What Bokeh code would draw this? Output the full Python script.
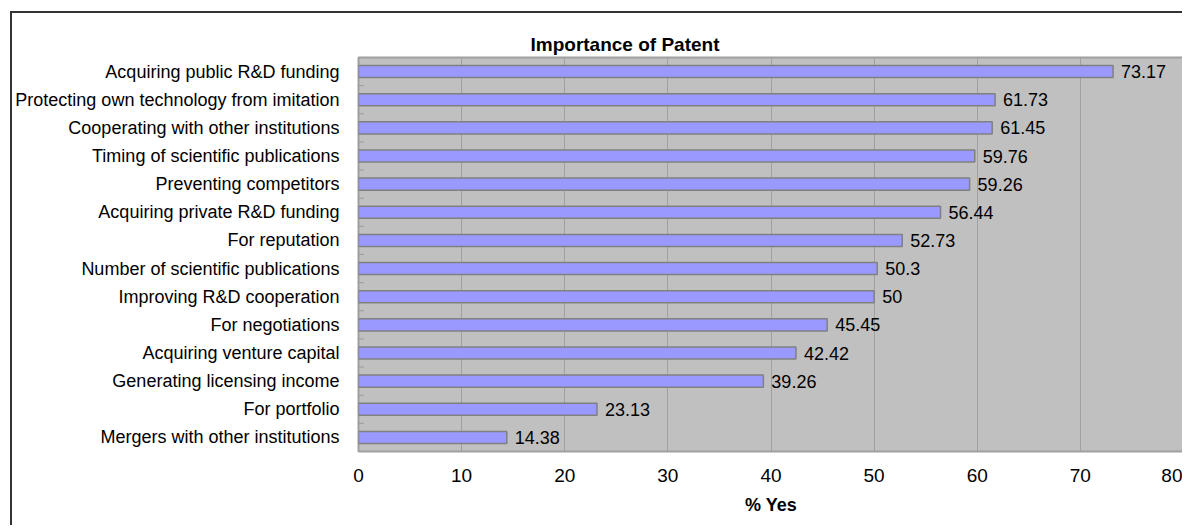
from bokeh.plotting import figure
from bokeh.models import ColumnDataSource, LabelSet, Title
from bokeh.transform import dodge
from bokeh.embed import file_html
from bokeh.resources import INLINE
from bokeh.core.properties import value

categories = [
    "Acquiring public R&D funding",
    "Protecting own technology from imitation",
    "Cooperating with other institutions",
    "Timing of scientific publications",
    "Preventing competitors",
    "Acquiring private R&D funding",
    "For reputation",
    "Number of scientific publications",
    "Improving R&D cooperation",
    "For negotiations",
    "Acquiring venture capital",
    "Generating licensing income",
    "For portfolio",
    "Mergers with other institutions",
]
values = [73.17, 61.73, 61.45, 59.76, 59.26, 56.44, 52.73, 50.3, 50, 45.45, 42.42, 39.26, 23.13, 14.38]
labels = ["73.17", "61.73", "61.45", "59.76", "59.26", "56.44", "52.73", "50.3", "50",
          "45.45", "42.42", "39.26", "23.13", "14.38"]
x_ticks = [0, 10, 20, 30, 40, 50, 60, 70, 80]

FONT = "Liberation Sans"
y_range = list(reversed(categories))

src = ColumnDataSource(dict(cat=categories, val=values, lab=labels))

p = figure(width=1172, height=514, y_range=y_range, x_range=(0, 80),
           output_backend="svg", toolbar_location=None,
           min_border_left=346, min_border_right=1, min_border_top=44, min_border_bottom=76)

p.background_fill_color = "#C0C0C0"
p.border_fill_color = "white"
p.outline_line_color = "#A0A0A0"
p.outline_line_width = 2

# small inward ticks at the category boundaries
p.segment(x0=0, x1=0.5, y0=dodge("cat", 0.5, range=p.y_range),
          y1=dodge("cat", 0.5, range=p.y_range), source=src,
          line_color="#999999", line_width=1)

p.hbar(y="cat", right="val", left=0, height=0.43, source=src,
       fill_color="#9999FF", line_color="#808080", line_width=1.5)

p.add_layout(LabelSet(x="val", y="cat", text="lab", source=src, x_offset=8,
                      text_baseline="middle", text_font=value(FONT),
                      text_font_size="18px", text_color="black"))

p.xgrid.ticker = x_ticks
p.xgrid.grid_line_color = "#A0A0A0"
p.xgrid.grid_line_width = 1
p.ygrid.grid_line_color = None

p.xaxis.ticker = x_ticks
p.xaxis.axis_line_color = None
p.xaxis.major_tick_line_color = None
p.xaxis.minor_tick_line_color = None
p.xaxis.major_tick_out = 0
p.xaxis.major_tick_in = 0
p.xaxis.major_label_standoff = 17
p.xaxis.major_label_text_font = FONT
p.xaxis.major_label_text_font_size = "19px"
p.xaxis.major_label_text_color = "black"
p.xaxis.axis_label = "% Yes"
p.xaxis.axis_label_text_font = FONT
p.xaxis.axis_label_text_font_style = "bold"
p.xaxis.axis_label_text_font_size = "18px"
p.xaxis.axis_label_text_color = "black"
p.xaxis.axis_label_standoff = 10

p.yaxis.axis_line_color = None
p.yaxis.major_tick_line_color = None
p.yaxis.major_tick_out = 0
p.yaxis.major_tick_in = 0
p.yaxis.major_label_standoff = 19
p.yaxis.major_label_text_font = FONT
p.yaxis.major_label_text_font_size = "18px"
p.yaxis.major_label_text_color = "black"

p.title = Title(text="Importance of Patent", align="left", offset=172,
                text_font=FONT, text_font_size="19px", text_font_style="bold",
                text_color="black", standoff=6)

p.styles = {"margin-left": "10px", "margin-top": "11px",
            "border-left": "2px solid #333333", "border-top": "2px solid #333333"}

open("out.html", "w").write(file_html(p, INLINE))
